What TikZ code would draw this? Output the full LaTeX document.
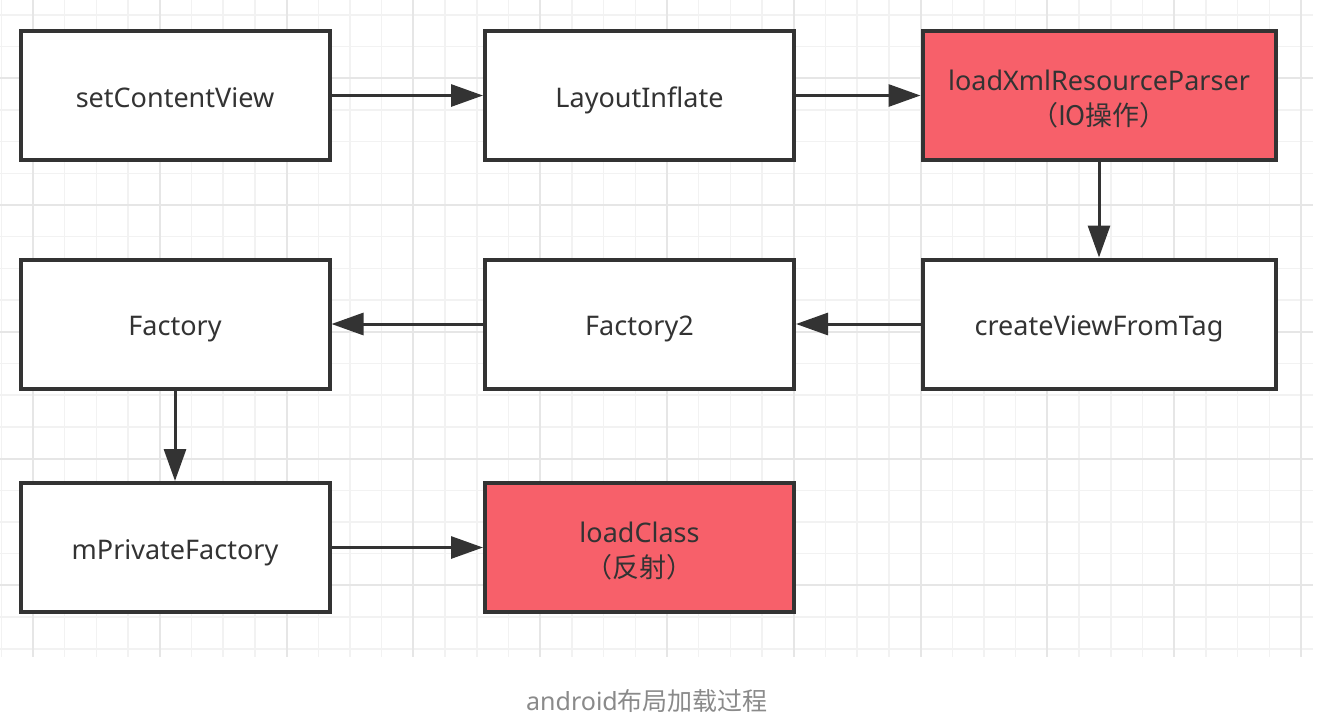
\documentclass[tikz,border=0pt]{standalone}
\usepackage{fontspec}
\setmainfont{Noto Sans}
\newfontfamily\cjk{Noto Sans CJK SC}
\usetikzlibrary{arrows.meta}
\definecolor{boxline}{HTML}{333333}
\definecolor{redfill}{RGB}{247,96,106}
\definecolor{gridminor}{HTML}{F2F2F2}
\definecolor{gridmajor}{HTML}{E6E6E6}
\definecolor{captiongray}{HTML}{8A8A8A}
\tikzset{
  flowbox/.style={draw=boxline, line width=4pt, fill=white, minimum width=309pt, minimum height=129pt,
    inner sep=0pt, text=boxline, font=\fontsize{27}{35}\selectfont, align=center,
    text height=23pt, text depth=0pt},
  twoline/.style={text height=60pt, text depth=0pt},
  widebox/.style={flowbox, minimum width=353pt},
  hot/.style={fill=redfill},
  flowarrow/.style={draw=boxline, line width=3pt, -{Triangle[length=32pt,width=22pt]}},
}
\begin{document}
\begin{tikzpicture}[x=1pt,y=-1pt]
\useasboundingbox (0,0) rectangle (1328,724);
\fill[white] (0,0) rectangle (1328,724);
% grid
\foreach \k in {-1,...,40} {
  \pgfmathsetmacro\xx{33+31.7*\k}
  \draw[gridminor, line width=1.5pt] (\xx,0) -- (\xx,657);
}
\foreach \k in {0,...,20} {
  \pgfmathsetmacro\yy{14.8+31.7*\k}
  \draw[gridminor, line width=1.5pt] (0,\yy) -- (1313,\yy);
}
\foreach \k in {0,4,...,40} {
  \pgfmathsetmacro\xx{33+31.7*\k}
  \draw[gridmajor, line width=2pt] (\xx,0) -- (\xx,657);
}
\foreach \k in {2,6,...,18} {
  \pgfmathsetmacro\yy{14.8+31.7*\k}
  \draw[gridmajor, line width=2pt] (0,\yy) -- (1313,\yy);
}
% nodes
\node[flowbox] (scv) at (175,95.5) {setContentView};
\node[flowbox] (li) at (639.5,95.5) {LayoutInflate};
\node[widebox,hot,twoline] (lx) at (1099,95.5) {loadXmlResourceParser\\{\cjk （IO操作）}};
\node[flowbox] (fac) at (175,324) {Factory};
\node[flowbox] (fac2) at (639.5,324) {Factory2};
\node[widebox] (cvt) at (1099,324) {createViewFromTag};
\node[flowbox] (mpf) at (175,547.5) {mPrivateFactory};
\node[flowbox,hot,twoline] (lc) at (639.5,547.5) {loadClass\\{\cjk （反射）}};
% connectors
\draw[flowarrow] (scv) -- (li);
\draw[flowarrow] (li) -- (lx);
\draw[flowarrow] (lx) -- (cvt);
\draw[flowarrow] (cvt) -- (fac2);
\draw[flowarrow] (fac2) -- (fac);
\draw[flowarrow] (fac) -- (mpf);
\draw[flowarrow] (mpf) -- (lc);
% caption
\node[text=captiongray, font=\fontsize{25}{30}\selectfont] (cap) at (647,701) {android{\cjk 布局加载过程}};
\end{tikzpicture}
\end{document}
